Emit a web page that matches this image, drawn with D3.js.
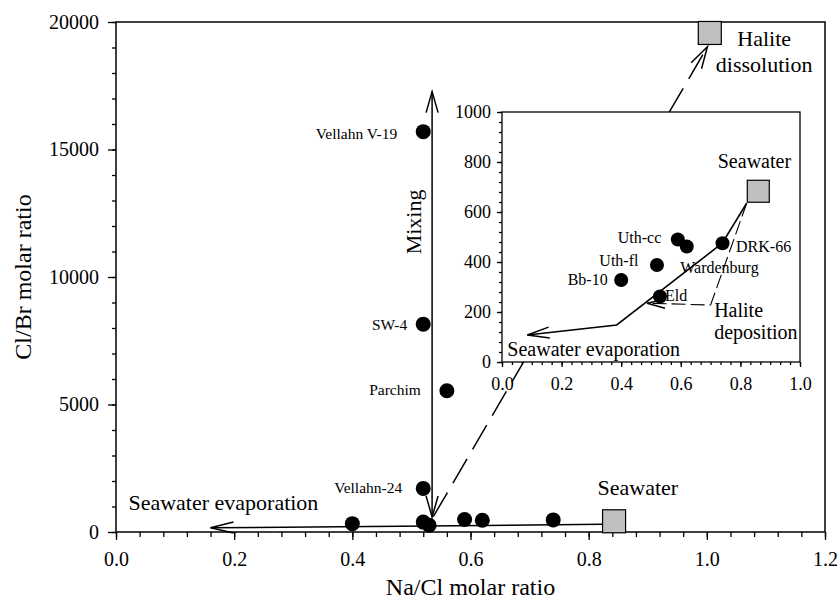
<!DOCTYPE html>
<html lang="en">
<head>
<meta charset="UTF-8">
<script src="https://d3js.org/d3.v7.min.js"></script>
<style>
  body { margin: 0; background: #fff; }
  svg { display: block; font-family: "Liberation Serif", "DejaVu Serif", serif; }
</style>
</head>
<body>
<svg width="839" height="600"></svg>
<script>
// samples (Na/Cl, Cl/Br molar ratios)
var lowNames = ["Bb-10", "Uth-fl", "Eld", "Uth-cc", "Wardenburg", "DRK-66"];
var lowNaCl  = [0.40, 0.52, 0.53, 0.59, 0.62, 0.74];
var lowClBr  = [328, 388, 262, 490, 462, 475];

var highNames = ["Vellahn-24", "Parchim", "SW-4", "Vellahn V-19"];
var highNaCl  = [0.52, 0.56, 0.52, 0.52];
var highClBr  = [1710, 5540, 8150, 15700];

// end members
var seawaterMain = [0.843, 420];
var seawaterInset = [0.86, 683];
var haliteDiss = [1.005, 19570];

// trend lines
var evapMainX = [0.823, 0.53, 0.16];
var evapMainY = [300, 240, 165];
var mixX = [0.535, 0.535];
var mixY = [590, 17270];
var dissX = [0.537, 1.001];
var dissY = [600, 19030];
var evapInsetX = [0.821, 0.739, 0.385, 0.085];
var evapInsetY = [635, 475, 148, 108];
var depoX = [0.821, 0.70, 0.487];
var depoY = [635, 228, 235];

// ticks
var xTicks = [0, 0.2, 0.4, 0.6, 0.8, 1.0, 1.2];
var yTicks = [0, 5000, 10000, 15000, 20000];
var ixTicks = [0, 0.2, 0.4, 0.6, 0.8, 1.0];
var iyTicks = [0, 200, 400, 600, 800, 1000];

var svg = d3.select("svg");
var x = d3.scaleLinear().domain([0, 1.2]).range([116, 825]);
var y = d3.scaleLinear().domain([0, 20000]).range([532, 22]);
var ix = d3.scaleLinear().domain([0, 1]).range([502, 800]);
var iy = d3.scaleLinear().domain([0, 1000]).range([362, 112]);

function arrowHead(g, tip, from, len, half) {
  var dx = tip[0] - from[0], dy = tip[1] - from[1];
  var L = Math.hypot(dx, dy), ux = dx / L, uy = dy / L;
  var bx = tip[0] - ux * len, by = tip[1] - uy * len;
  g.append("path")
    .attr("d", "M" + (bx - uy * half) + "," + (by + ux * half) + "L" + tip[0] + "," + tip[1] +
               "L" + (bx + uy * half) + "," + (by - ux * half))
    .attr("fill", "none").attr("stroke", "#000").attr("stroke-width", 1.5);
}

function styleAxis(sel, size) {
  sel.select(".domain").remove();
  sel.selectAll("line").attr("stroke", "#000").attr("stroke-width", 1.3);
  sel.selectAll("text").attr("fill", "#000").style("font-size", size + "px")
    .style("font-family", "Liberation Serif");
}

// ---- main plot ----
var main = svg.append("g");

main.append("g").attr("transform", "translate(0,532)")
  .call(d3.axisBottom(x).tickValues(d3.range(0, 1.2001, 0.04)).tickFormat("").tickSize(5))
  .call(styleAxis, 20);
main.append("g").attr("transform", "translate(0,532)")
  .call(d3.axisBottom(x).tickValues(xTicks).tickFormat(d3.format(".1f")).tickSize(8).tickPadding(12))
  .call(styleAxis, 20);
main.append("g").attr("transform", "translate(116,0)")
  .call(d3.axisLeft(y).tickValues(d3.range(0, 20001, 1000)).tickFormat("").tickSize(4))
  .call(styleAxis, 20);
main.append("g").attr("transform", "translate(116,0)")
  .call(d3.axisLeft(y).tickValues(yTicks).tickFormat(d3.format("d")).tickSize(8).tickPadding(9))
  .call(styleAxis, 20);

main.append("rect").attr("x", 116).attr("y", 22).attr("width", 825 - 116).attr("height", 532 - 22)
  .attr("fill", "none").attr("stroke", "#000").attr("stroke-width", 1.5);

main.append("text").attr("x", (116 + 825) / 2).attr("y", 595).attr("text-anchor", "middle")
  .style("font-size", "24px").text("Na/Cl molar ratio");
main.append("text").attr("transform", "translate(31," + (22 + 532) / 2 + ") rotate(-90)")
  .attr("text-anchor", "middle").style("font-size", "24px").text("Cl/Br molar ratio");

var line = d3.line().x(function (d) { return d[0]; }).y(function (d) { return d[1]; });

// seawater evaporation (main)
var evapMain = evapMainX.map(function (v, i) { return [x(v), y(evapMainY[i])]; });
main.append("path").attr("d", line(evapMain)).attr("fill", "none").attr("stroke", "#000").attr("stroke-width", 1.5);
arrowHead(main, evapMain[2], evapMain[1], 23, 5.5);

// mixing (double headed)
var mix = mixX.map(function (v, i) { return [x(v), y(mixY[i])]; });
main.append("path").attr("d", line(mix)).attr("fill", "none").attr("stroke", "#000").attr("stroke-width", 1.5);
arrowHead(main, mix[1], mix[0], 21, 6);
arrowHead(main, mix[0], mix[1], 21, 6);

// halite dissolution (dashed)
var diss = dissX.map(function (v, i) { return [x(v), y(dissY[i])]; });
main.append("path").attr("d", line(diss)).attr("fill", "none").attr("stroke", "#000")
  .attr("stroke-width", 1.5).attr("stroke-dasharray", "28,11");
arrowHead(main, diss[1], diss[0], 22, 6);

// labels main
var hiOffsets = [[-21, 5], [-26, 4], [-16, 6], [-26, 7.5]];
highNames.forEach(function (n, i) {
  main.append("text").attr("x", x(highNaCl[i]) + hiOffsets[i][0]).attr("y", y(highClBr[i]) + hiOffsets[i][1])
    .attr("text-anchor", "end").style("font-size", "15.5px").text(n);
});
main.append("text").attr("x", x(0.021)).attr("y", y(863)).style("font-size", "22px").text("Seawater evaporation");
main.append("text").attr("x", x(0.815)).attr("y", y(1450)).style("font-size", "22px").text("Seawater");
main.append("text").attr("x", x(1.097)).attr("y", y(19070)).attr("text-anchor", "middle").style("font-size", "22px").text("Halite");
main.append("text").attr("x", x(1.097)).attr("y", y(18050)).attr("text-anchor", "middle").style("font-size", "22px").text("dissolution");
main.append("text").attr("transform", "translate(" + x(0.516) + "," + y(12160) + ") rotate(-90)")
  .attr("text-anchor", "middle").style("font-size", "22px").text("Mixing");

// points main
var allX = lowNaCl.concat(highNaCl), allY = lowClBr.concat(highClBr);
main.selectAll("circle.pt").data(allX).enter().append("circle").attr("class", "pt")
  .attr("cx", function (d) { return x(d); })
  .attr("cy", function (d, i) { return y(allY[i]); })
  .attr("r", 7.5).attr("fill", "#000");

main.append("rect").attr("x", x(seawaterMain[0]) - 11.5).attr("y", y(seawaterMain[1]) - 11.5)
  .attr("width", 23).attr("height", 23).attr("fill", "#c0c0c0").attr("stroke", "#000").attr("stroke-width", 1.2);
main.append("rect").attr("x", x(haliteDiss[0]) - 11.5).attr("y", y(haliteDiss[1]) - 11.5)
  .attr("width", 23).attr("height", 23).attr("fill", "#c0c0c0").attr("stroke", "#000").attr("stroke-width", 1.2);

// ---- inset ----
var ins = svg.append("g");
ins.append("rect").attr("x", 502).attr("y", 112).attr("width", 298).attr("height", 250)
  .attr("fill", "#fff").attr("stroke", "#000").attr("stroke-width", 1.3);

ins.append("g").attr("transform", "translate(0,362)")
  .call(d3.axisBottom(ix).tickValues(d3.range(0, 1.0001, 1 / 30)).tickFormat("").tickSize(3))
  .call(styleAxis, 18);
ins.append("g").attr("transform", "translate(0,362)")
  .call(d3.axisBottom(ix).tickValues(ixTicks).tickFormat(d3.format(".1f")).tickSize(5).tickPadding(10))
  .call(styleAxis, 18);
ins.append("g").attr("transform", "translate(502,0)")
  .call(d3.axisLeft(iy).tickValues(d3.range(0, 1001, 40)).tickFormat("").tickSize(3))
  .call(styleAxis, 18);
ins.append("g").attr("transform", "translate(502,0)")
  .call(d3.axisLeft(iy).tickValues(iyTicks).tickFormat(d3.format("d")).tickSize(5).tickPadding(6))
  .call(styleAxis, 18);

// inset labels (under lines and dots)
var lowOffsets = [[-13.5, 5, "end"], [-18.5, 1, "end"], [5, 4.5, "start"], [-16.5, 3.5, "end"], [-6.5, 26, "start"], [13.5, 9, "start"]];
lowNames.forEach(function (n, i) {
  ins.append("text").attr("x", ix(lowNaCl[i]) + lowOffsets[i][0]).attr("y", iy(lowClBr[i]) + lowOffsets[i][1])
    .attr("text-anchor", lowOffsets[i][2]).style("font-size", "16px").text(n);
});
ins.append("text").attr("x", ix(0.724)).attr("y", iy(775)).style("font-size", "20px").text("Seawater");
ins.append("text").attr("x", ix(0.712)).attr("y", iy(181)).style("font-size", "20px").text("Halite");
ins.append("text").attr("x", ix(0.712)).attr("y", iy(92)).style("font-size", "20px").text("deposition");
ins.append("text").attr("x", ix(0.018)).attr("y", iy(24)).style("font-size", "20px").text("Seawater evaporation");

var evapIn = evapInsetX.map(function (v, i) { return [ix(v), iy(evapInsetY[i])]; });
ins.append("path").attr("d", line(evapIn)).attr("fill", "none").attr("stroke", "#000").attr("stroke-width", 1.6);
arrowHead(ins, evapIn[3], evapIn[2], 22, 5.5);

var depo = depoX.map(function (v, i) { return [ix(v), iy(depoY[i])]; });
ins.append("path").attr("d", line(depo)).attr("fill", "none").attr("stroke", "#000")
  .attr("stroke-width", 1.1).attr("stroke-dasharray", "14,5");
arrowHead(ins, depo[2], depo[1], 18, 4.5);

ins.selectAll("circle.ipt").data(lowNaCl).enter().append("circle").attr("class", "ipt")
  .attr("cx", function (d) { return ix(d); })
  .attr("cy", function (d, i) { return iy(lowClBr[i]); })
  .attr("r", 7).attr("fill", "#000");

ins.append("rect").attr("x", ix(seawaterInset[0]) - 11).attr("y", iy(seawaterInset[1]) - 11)
  .attr("width", 22).attr("height", 22).attr("fill", "#c0c0c0").attr("stroke", "#000").attr("stroke-width", 1.2);
</script>
</body>
</html>
